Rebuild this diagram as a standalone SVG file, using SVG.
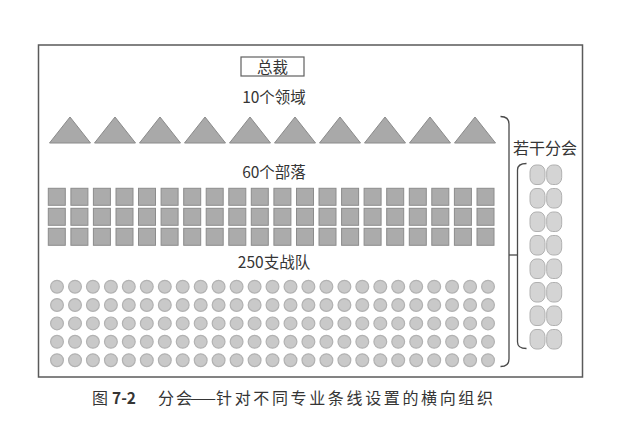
<svg xmlns="http://www.w3.org/2000/svg" xmlns:xlink="http://www.w3.org/1999/xlink" width="627" height="436" viewBox="0 0 627 436">
<style>
text{font-family:"Noto Sans CJK SC","Liberation Sans",sans-serif;fill:#353535}
.lbl{font-size:15.5px;text-anchor:middle}
.tri{fill:#a9a9a9;stroke:#8a8a8a;stroke-width:1}
.sq{fill:#ababab;stroke:#8c8c8c;stroke-width:1}
.dot{fill:#c9c9c9;stroke:#b2b2b2;stroke-width:1.2}
.pill{fill:#d4d4d4;stroke:#b0b0b0;stroke-width:1}
.line{fill:none;stroke:#4a4a4a;stroke-width:1.3}
.cap{font-size:16px}
</style>
<defs>
<path id="tri" class="tri" d="M0,26 L20.5,0 L41,26 Z"/>
<g id="sqrow">
<rect class="sq" x="48.3" y="0" width="17" height="17"/><rect class="sq" x="70.9" y="0" width="17" height="17"/><rect class="sq" x="93.4" y="0" width="17" height="17"/><rect class="sq" x="116" y="0" width="17" height="17"/><rect class="sq" x="138.5" y="0" width="17" height="17"/><rect class="sq" x="161.1" y="0" width="17" height="17"/><rect class="sq" x="183.7" y="0" width="17" height="17"/><rect class="sq" x="206.2" y="0" width="17" height="17"/><rect class="sq" x="228.8" y="0" width="17" height="17"/><rect class="sq" x="251.3" y="0" width="17" height="17"/><rect class="sq" x="273.9" y="0" width="17" height="17"/><rect class="sq" x="296.5" y="0" width="17" height="17"/><rect class="sq" x="319" y="0" width="17" height="17"/><rect class="sq" x="341.6" y="0" width="17" height="17"/><rect class="sq" x="364.1" y="0" width="17" height="17"/><rect class="sq" x="386.7" y="0" width="17" height="17"/><rect class="sq" x="409.3" y="0" width="17" height="17"/><rect class="sq" x="431.8" y="0" width="17" height="17"/><rect class="sq" x="454.4" y="0" width="17" height="17"/><rect class="sq" x="477" y="0" width="17" height="17"/>
</g>
<g id="dotrow">
<circle class="dot" cx="57" cy="0" r="6.4"/><circle class="dot" cx="75" cy="0" r="6.4"/><circle class="dot" cx="92.9" cy="0" r="6.4"/><circle class="dot" cx="110.9" cy="0" r="6.4"/><circle class="dot" cx="128.8" cy="0" r="6.4"/><circle class="dot" cx="146.8" cy="0" r="6.4"/><circle class="dot" cx="164.8" cy="0" r="6.4"/><circle class="dot" cx="182.7" cy="0" r="6.4"/><circle class="dot" cx="200.7" cy="0" r="6.4"/><circle class="dot" cx="218.6" cy="0" r="6.4"/><circle class="dot" cx="236.6" cy="0" r="6.4"/><circle class="dot" cx="254.6" cy="0" r="6.4"/><circle class="dot" cx="272.5" cy="0" r="6.4"/><circle class="dot" cx="290.5" cy="0" r="6.4"/><circle class="dot" cx="308.4" cy="0" r="6.4"/><circle class="dot" cx="326.4" cy="0" r="6.4"/><circle class="dot" cx="344.4" cy="0" r="6.4"/><circle class="dot" cx="362.3" cy="0" r="6.4"/><circle class="dot" cx="380.3" cy="0" r="6.4"/><circle class="dot" cx="398.2" cy="0" r="6.4"/><circle class="dot" cx="416.2" cy="0" r="6.4"/><circle class="dot" cx="434.2" cy="0" r="6.4"/><circle class="dot" cx="452.1" cy="0" r="6.4"/><circle class="dot" cx="470.1" cy="0" r="6.4"/><circle class="dot" cx="488" cy="0" r="6.4"/>
</g>
<g id="pillpair">
<rect class="pill" x="530" y="0" width="15" height="19.5" rx="6" ry="7"/>
<rect class="pill" x="546.7" y="0" width="15" height="19.5" rx="6" ry="7"/>
</g>
</defs>
<rect width="627" height="436" fill="#ffffff"/>
<g id="frame"><rect x="38.5" y="45" width="544" height="332" fill="none" stroke="#5a5a5a" stroke-width="1.5"/></g>
<g id="ceo">
<rect x="241" y="57" width="63" height="19" fill="#ffffff" stroke="#606060" stroke-width="1.2"/>
<text x="272.5" y="73" class="lbl">总裁</text>
</g>
<g id="domains">
<text x="274" y="103" class="lbl">10个领域</text>
<use xlink:href="#tri" x="49.5" y="117"/><use xlink:href="#tri" x="94.5" y="117"/><use xlink:href="#tri" x="139.5" y="117"/><use xlink:href="#tri" x="184.5" y="117"/><use xlink:href="#tri" x="229.5" y="117"/><use xlink:href="#tri" x="274.5" y="117"/><use xlink:href="#tri" x="319.5" y="117"/><use xlink:href="#tri" x="364.5" y="117"/><use xlink:href="#tri" x="409.5" y="117"/><use xlink:href="#tri" x="454.5" y="117"/>
</g>
<g id="tribes">
<text x="274" y="177.5" class="lbl">60个部落</text>
<use xlink:href="#sqrow" y="188.3"/><use xlink:href="#sqrow" y="208.3"/><use xlink:href="#sqrow" y="228.3"/>
</g>
<g id="squads">
<text x="274" y="268" class="lbl">250支战队</text>
<use xlink:href="#dotrow" y="286.7"/><use xlink:href="#dotrow" y="305"/><use xlink:href="#dotrow" y="323.4"/><use xlink:href="#dotrow" y="341.8"/><use xlink:href="#dotrow" y="360.2"/>
</g>
<g id="chapters">
<text x="545" y="153.5" class="lbl" style="font-size:16px">若干分会</text>
<use xlink:href="#pillpair" y="165"/><use xlink:href="#pillpair" y="188.5"/><use xlink:href="#pillpair" y="212"/><use xlink:href="#pillpair" y="235.5"/><use xlink:href="#pillpair" y="259"/><use xlink:href="#pillpair" y="282.5"/><use xlink:href="#pillpair" y="306"/><use xlink:href="#pillpair" y="329.5"/>
</g>
<g id="connectors">
<path class="line" d="M500.5,116.5 Q509,116.5 509,124 V359 Q509,366.5 500.5,366.5"/>
<path class="line" d="M509,255 H517.5"/>
<path class="line" d="M526.5,163.5 Q517.5,163.5 517.5,170 V342 Q517.5,348.5 526.5,348.5"/>
</g>
<g id="caption">
<text x="92" y="404" class="cap">图</text>
<text x="112" y="404" class="cap" style="font-weight:bold" textLength="24" lengthAdjust="spacingAndGlyphs">7-2</text>
<text x="158" y="404" class="cap" textLength="34" lengthAdjust="spacing">分会</text>
<text x="190" y="404" class="cap" textLength="26" lengthAdjust="spacingAndGlyphs">——</text>
<text x="216" y="404" class="cap" textLength="277" lengthAdjust="spacing">针对不同专业条线设置的横向组织</text>
</g>
</svg>
